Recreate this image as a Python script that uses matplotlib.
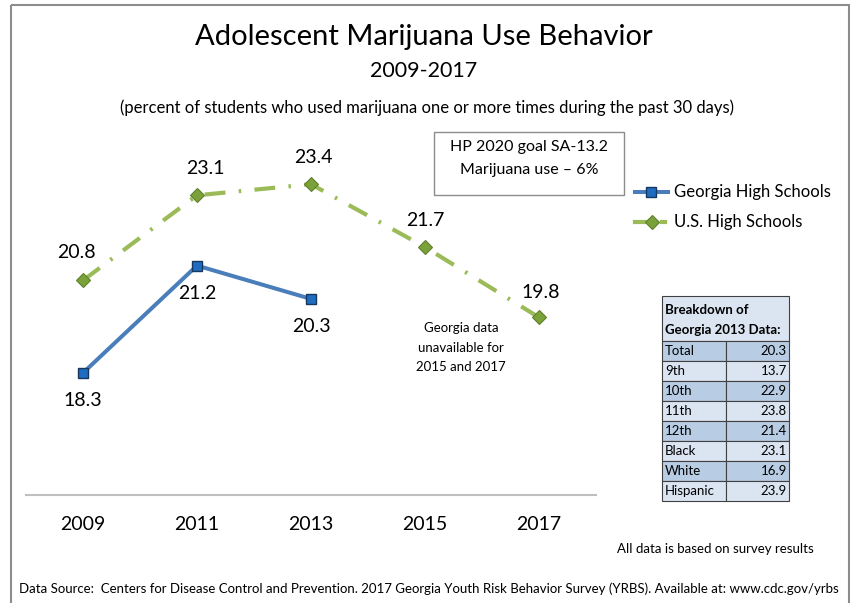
import matplotlib
matplotlib.use("Agg")
import matplotlib.pyplot as plt
from matplotlib.patches import Rectangle
from matplotlib.lines import Line2D

plt.rcParams['font.family'] = ['Lato', 'DejaVu Sans']

# ---- data ----
years = ["2009", "2011", "2013", "2015", "2017"]
georgia = [18.3, 21.2, 20.3]
us = [20.8, 23.1, 23.4, 21.7, 19.8]
breakdown_labels = ["Total", "9th", "10th", "11th", "12th", "Black", "White", "Hispanic"]
breakdown_values = [20.3, 13.7, 22.9, 23.8, 21.4, 23.1, 16.9, 23.9]

W, H = 850, 603
fig = plt.figure(figsize=(W / 100, H / 100), dpi=100)


def fx(x):
    return x / W


def fy(y):
    return 1 - y / H


# overlay axes in pixel coordinates (origin top-left)
ov = fig.add_axes([0, 0, 1, 1], zorder=0)
ov.set_xlim(0, W)
ov.set_ylim(H, 0)
ov.axis("off")

# outer frame
ov.add_patch(Rectangle((11, 5), 838, 620, fill=False, edgecolor="#8c8c8c", lw=1.5))

# titles
ov.text(424, 37, "Adolescent Marijuana Use Behavior", ha="center", va="center", fontsize=21)
ov.text(424, 71, "2009-2017", ha="center", va="center", fontsize=15.5)
ov.text(427, 108, "(percent of students who used marijuana one or more times during the past 30 days)",
        ha="center", va="center", fontsize=12)

# main plot
ax = fig.add_axes([fx(26), fy(495), 570 / W, 370 / H], zorder=2)
ax.patch.set_alpha(0)
xs = list(range(len(years)))
blue_line = "#4a7ebb"
green_line = "#9bbb59"

ax.plot(xs[:len(georgia)], georgia, color=blue_line, lw=2.9, marker="s", markersize=7,
        markerfacecolor="#1f6cc0", markeredgecolor="#17375e", markeredgewidth=1.0,
        solid_capstyle="butt", zorder=3)
ax.plot(xs, us, color=green_line, lw=3.0, linestyle=(0, (5, 3.2, 0.6, 3.2)), marker="D",
        markersize=7.5, markerfacecolor="#7ba23a", markeredgecolor="#5f7f2b",
        markeredgewidth=0.8, zorder=3)

for i, v in enumerate(georgia):
    ax.annotate(f"{v}", (i, v), xytext=(0, -20), textcoords="offset points",
                ha="center", va="center", fontsize=14)
us_off = [(-5, 20), (6, 19), (2, 19), (0, 19), (1, 18)]
for i, v in enumerate(us):
    ax.annotate(f"{v}", (i, v), xytext=us_off[i], textcoords="offset points",
                ha="center", va="center", fontsize=14)

ax.set_xlim(-0.5, len(years) - 0.5)
ax.set_ylim(15, 25)
ax.set_xticks(xs)
ax.set_xticklabels(years, fontsize=14)
ax.set_yticks([])
ax.tick_params(axis="x", length=0, pad=15)
for s in ["top", "left", "right"]:
    ax.spines[s].set_visible(False)
ax.spines["bottom"].set_color("#bfbfbf")
ax.spines["bottom"].set_linewidth(1.5)

# goal box
ov.add_patch(Rectangle((434, 132), 190, 63, fill=False, edgecolor="#8c8c8c", lw=1.0))
ov.text(529, 147, "HP 2020 goal SA-13.2", ha="center", va="center", fontsize=11.5)
ov.text(529, 170, "Marijuana use \u2013 6%", ha="center", va="center", fontsize=11.5)

# legend
ov.add_line(Line2D([635, 668], [192, 192], color=blue_line, lw=2.9))
ov.plot([651], [192], marker="s", markersize=7, markerfacecolor="#1f6cc0",
        markeredgecolor="#17375e", markeredgewidth=1.0)
ov.text(674, 192, "Georgia High Schools", ha="left", va="center", fontsize=12)
ov.add_line(Line2D([635, 650], [222, 222], color=green_line, lw=3.0))
ov.add_line(Line2D([662, 665], [222, 222], color=green_line, lw=3.0))
ov.plot([652], [222], marker="D", markersize=7, markerfacecolor="#7ba23a",
        markeredgecolor="#5f7f2b", markeredgewidth=0.8)
ov.text(674, 222, "U.S. High Schools", ha="left", va="center", fontsize=12)

# note on missing data
for k, line in enumerate(["Georgia data", "unavailable for", "2015 and 2017"]):
    ov.text(461, 328 + k * 19.5, line, ha="center", va="center", fontsize=9.5)

# breakdown table
tx0, tx1, tdiv = 662, 789, 726
ty0, thead = 296, 341
row_h = (501 - thead) / len(breakdown_labels)
light, dark = "#dbe5f1", "#b8cce4"
ov.add_patch(Rectangle((tx0, ty0), tx1 - tx0, thead - ty0, facecolor=light,
                       edgecolor="#404040", lw=0.8))
ov.text(tx0 + 3, 310, "Breakdown of", ha="left", va="center", fontsize=9.5, fontweight="bold")
ov.text(tx0 + 3, 330, "Georgia 2013 Data:", ha="left", va="center", fontsize=9.5, fontweight="bold")
for i, (lab, val) in enumerate(zip(breakdown_labels, breakdown_values)):
    y = thead + i * row_h
    col = dark if i % 2 == 0 else light
    ov.add_patch(Rectangle((tx0, y), tdiv - tx0, row_h, facecolor=col, edgecolor="#404040", lw=0.8))
    ov.add_patch(Rectangle((tdiv, y), tx1 - tdiv, row_h, facecolor=col, edgecolor="#404040", lw=0.8))
    ov.text(tx0 + 3, y + row_h / 2, lab, ha="left", va="center", fontsize=9.5)
    ov.text(tx1 - 2, y + row_h / 2, f"{val}", ha="right", va="center", fontsize=9.5)

ov.text(715, 549, "All data is based on survey results", ha="center", va="center", fontsize=9.5)
ov.text(429, 589, "Data Source:  Centers for Disease Control and Prevention. 2017 Georgia Youth Risk "
        "Behavior Survey (YRBS). Available at: www.cdc.gov/yrbs",
        ha="center", va="center", fontsize=9.5)

fig.savefig("out.png", dpi=100)
